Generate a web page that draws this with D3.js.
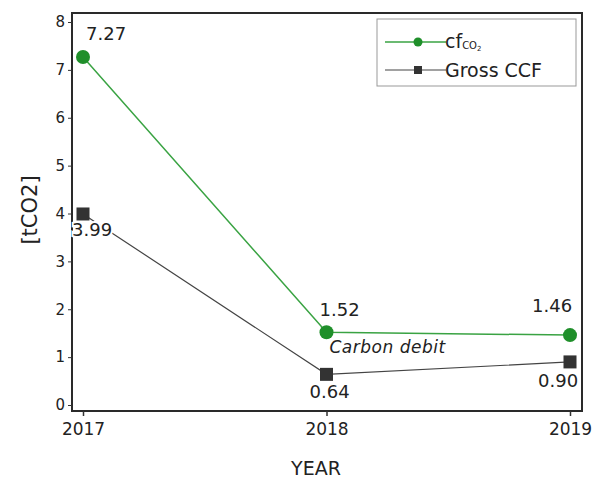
<!DOCTYPE html>
<html>
<head>
<meta charset="utf-8">
<script src="https://cdn.jsdelivr.net/npm/d3@7"></script>
<style>
  body { margin: 0; background: #fff; }
  text { font-family: "DejaVu Sans", sans-serif; }
</style>
</head>
<body>
<div id="chart"></div>
<script>
// chart data
let years = ["2017", "2018", "2019"];
let cfValues = [7.27, 1.52, 1.46];
let grossValues = [3.99, 0.64, 0.90];
let cfLabels = ["7.27", "1.52", "1.46"];
let grossLabels = ["3.99", "0.64", "0.90"];
let yTicks = [0, 1, 2, 3, 4, 5, 6, 7, 8];

let width = 594, height = 480;
let frameLeft = 72, frameRight = 582, frameTop = 13, frameBottom = 411;

let svg = d3.select("#chart").append("svg")
  .attr("width", width)
  .attr("height", height);

let x = d3.scalePoint().domain(years).range([83, 570]);
let y = d3.scaleLinear().domain([0, 8]).range([405, 22]);

// frame
svg.append("rect")
  .attr("x", frameLeft).attr("y", frameTop)
  .attr("width", frameRight - frameLeft).attr("height", frameBottom - frameTop)
  .attr("fill", "none").attr("stroke", "#2a2a2a").attr("stroke-width", 2);

// y axis
let yAxis = svg.append("g")
  .attr("transform", "translate(" + frameLeft + ",0)")
  .call(d3.axisLeft(y).tickValues(yTicks).tickSize(4).tickPadding(3));
yAxis.select(".domain").remove();
yAxis.selectAll("text")
  .attr("font-size", 15)
  .attr("font-family", "'DejaVu Sans', sans-serif").attr("fill", "#222");
yAxis.selectAll("line").attr("stroke", "#333");

// x axis
let xAxis = svg.append("g")
  .attr("transform", "translate(0," + frameBottom + ")")
  .call(d3.axisBottom(x).tickSize(5).tickPadding(7));
xAxis.select(".domain").remove();
xAxis.selectAll("text")
  .attr("font-size", 17)
  .attr("font-family", "'DejaVu Sans', sans-serif").attr("fill", "#222");
xAxis.selectAll("line").attr("stroke", "#333").attr("stroke-width", 1.5);

// axis titles
svg.append("text")
  .attr("transform", "translate(37,210) rotate(-90)")
  .attr("text-anchor", "middle")
  .attr("font-size", 21).attr("fill", "#222")
  .text("[tCO2]");
svg.append("text")
  .attr("x", 316).attr("y", 475)
  .attr("text-anchor", "middle")
  .attr("font-size", 19).attr("fill", "#222")
  .text("YEAR");

let line = d3.line().x((d, i) => x(years[i])).y(d => y(d));

// gross line
svg.append("path")
  .datum(grossValues)
  .attr("d", line)
  .attr("fill", "none").attr("stroke", "#444").attr("stroke-width", 1.2);

// cf line
svg.append("path")
  .datum(cfValues)
  .attr("d", line)
  .attr("fill", "none").attr("stroke", "#3aa343").attr("stroke-width", 1.5);

// gross markers
svg.selectAll(".sq").data(grossValues).join("rect")
  .attr("class", "sq")
  .attr("x", (d, i) => x(years[i]) - 6.5)
  .attr("y", d => y(d) - 6.5)
  .attr("width", 13).attr("height", 13)
  .attr("fill", "#333");

// cf markers
svg.selectAll(".dot").data(cfValues).join("circle")
  .attr("class", "dot")
  .attr("cx", (d, i) => x(years[i]))
  .attr("cy", d => y(d))
  .attr("r", 7)
  .attr("fill", "#1f8f2a");

// value labels
let cfOff = [[3, -17], [-7, -16], [-38, -23]];
svg.selectAll(".cfl").data(cfValues).join("text")
  .attr("class", "cfl")
  .attr("x", (d, i) => x(years[i]) + cfOff[i][0])
  .attr("y", (d, i) => y(d) + cfOff[i][1])
  .attr("font-size", 18).attr("fill", "#222")
  .text((d, i) => cfLabels[i]);

let grossOff = [[-11, 22], [-17, 24], [-32, 25]];
svg.selectAll(".gl").data(grossValues).join("text")
  .attr("class", "gl")
  .attr("x", (d, i) => x(years[i]) + grossOff[i][0])
  .attr("y", (d, i) => y(d) + grossOff[i][1])
  .attr("font-size", 18).attr("fill", "#222")
  .attr("stroke", "#fff").attr("stroke-width", 4).attr("paint-order", "stroke")
  .text((d, i) => grossLabels[i]);

svg.append("text")
  .attr("x", x("2018") + 3).attr("y", y(cfValues[1]) + 21)
  .attr("font-size", 17).attr("font-style", "italic").attr("fill", "#222")
  .attr("letter-spacing", 0.5)
  .attr("font-family", "'Open Sans', sans-serif")
  .text("Carbon debit");

// legend
let legend = svg.append("g").attr("transform", "translate(377,19)");
legend.append("rect")
  .attr("width", 199).attr("height", 67)
  .attr("fill", "#fff").attr("stroke", "#999").attr("stroke-width", 1);

legend.append("line")
  .attr("x1", 8).attr("x2", 69).attr("y1", 23).attr("y2", 23)
  .attr("stroke", "#3aa343").attr("stroke-width", 1.5);
legend.append("circle")
  .attr("cx", 41).attr("cy", 23).attr("r", 4.5).attr("fill", "#1f8f2a");
let cfText = legend.append("text")
  .attr("x", 68).attr("y", 29)
  .attr("font-size", 19).attr("fill", "#222")
  .attr("font-family", "'Open Sans', sans-serif");
cfText.append("tspan").text("cf");
cfText.append("tspan").attr("font-size", 10).attr("dy", 1).text("CO");
cfText.append("tspan").attr("font-size", 7).attr("dy", 2).text("2");

legend.append("line")
  .attr("x1", 8).attr("x2", 69).attr("y1", 51).attr("y2", 51)
  .attr("stroke", "#444").attr("stroke-width", 1.2);
legend.append("rect")
  .attr("x", 37).attr("y", 47).attr("width", 8).attr("height", 8)
  .attr("fill", "#333");
legend.append("text")
  .attr("x", 68).attr("y", 58)
  .attr("font-size", 19).attr("fill", "#222")
  .attr("font-family", "'Open Sans', sans-serif")
  .text("Gross CCF");
</script>
</body>
</html>
